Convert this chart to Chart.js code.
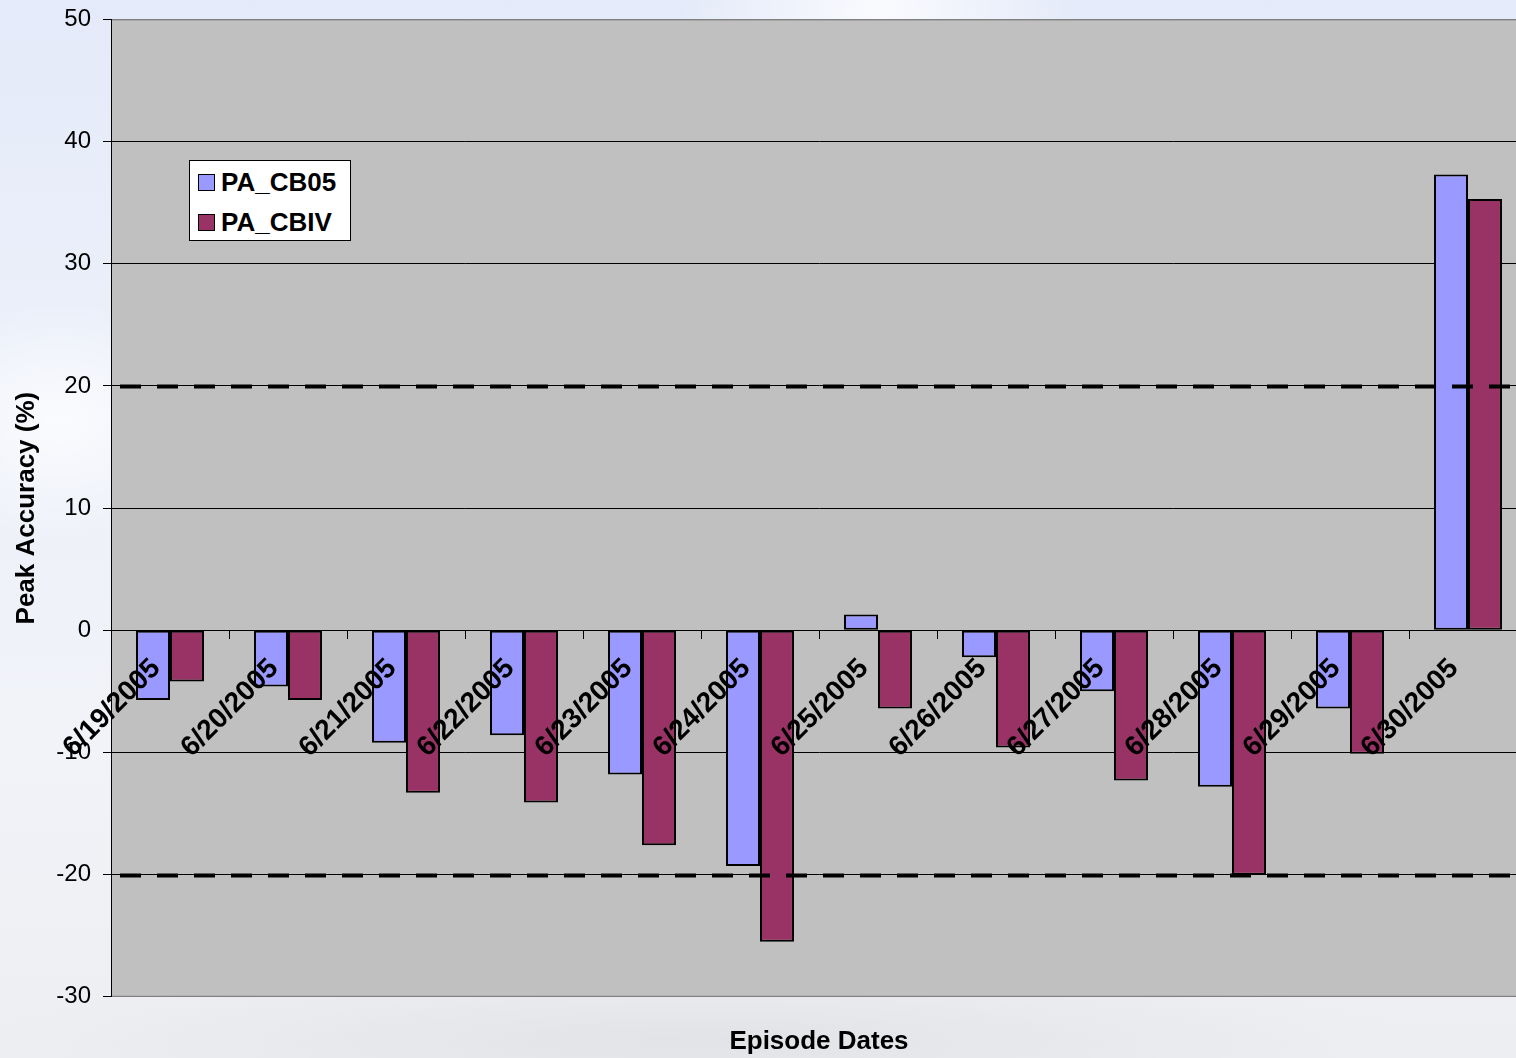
<!DOCTYPE html>
<html>
<head>
<meta charset="utf-8">
<script src="https://cdn.jsdelivr.net/npm/chart.js@4/dist/chart.umd.min.js"></script>
<style>
  html, body { margin: 0; padding: 0; overflow: hidden; width: 1516px; height: 1058px; }
  body {
    position: relative;
    background:
      radial-gradient(ellipse 160px 120px at 60px 420px, rgba(255,255,255,0.75), rgba(255,255,255,0) 100%),
      radial-gradient(ellipse 200px 120px at 880px 10px, rgba(255,255,255,0.8), rgba(255,255,255,0) 100%),
      radial-gradient(ellipse 700px 80px at 700px 1040px, rgba(220,222,226,0.7), rgba(220,222,226,0) 100%),
      linear-gradient(180deg, #E4EAF9 0%, #ECF0FA 35%, #F1F3F8 70%, #ECEEF1 100%);
    font-family: "Liberation Sans", Arial, sans-serif;
  }
  #wrap { position: absolute; left: 0; top: -7px; width: 1530px; height: 1066px; }
  #legend {
    position: absolute; left: 189px; top: 160px; width: 162px; height: 81px;
    background: #fff; border: 1px solid #000; box-sizing: border-box;
    font: bold 26px "Liberation Sans", Arial, sans-serif; color: #000;
  }
  .item { position: absolute; left: 8px; height: 30px; display: flex; align-items: center; }
  .sw { width: 15px; height: 15px; border: 1.5px solid #000; margin-right: 6px; }
</style>
</head>
<body>
<div id="wrap"><canvas id="c" width="1530" height="1066"></canvas></div>
<div id="legend">
  <div class="item" style="top:6px"><span class="sw" style="background:#9999FF"></span><span id="l0"></span></div>
  <div class="item" style="top:46px"><span class="sw" style="background:#993366"></span><span id="l1"></span></div>
</div>
<script>
const categories = ['6/19/2005','6/20/2005','6/21/2005','6/22/2005','6/23/2005','6/24/2005','6/25/2005','6/26/2005','6/27/2005','6/28/2005','6/29/2005','6/30/2005'];
const seriesNames = ['PA_CB05', 'PA_CBIV'];
const paCB05 = [-5.7, -4.6, -9.2, -8.6, -11.8, -19.3, 1.3, -2.2, -5.0, -12.8, -6.4, 37.3];
const paCBIV = [-4.2, -5.7, -13.3, -14.1, -17.6, -25.5, -6.4, -9.6, -12.3, -20.0, -10.1, 35.3];
const thresholds = [20, -20];
const yMin = -30, yMax = 50, yStep = 10;
const xTitle = 'Episode Dates';
const yTitle = 'Peak Accuracy (%)';

document.getElementById('l0').textContent = seriesNames[0];
document.getElementById('l1').textContent = seriesNames[1];

const FONT = '"Liberation Sans", Arial, sans-serif';

const plotBg = {
  id: 'plotBg',
  beforeDraw(chart) {
    const {ctx, chartArea: a} = chart;
    ctx.save();
    ctx.fillStyle = '#C0C0C0';
    ctx.fillRect(a.left, a.top, a.right - a.left, a.bottom - a.top);
    ctx.strokeStyle = '#808080';
    ctx.lineWidth = 1;
    ctx.strokeRect(a.left + 0.5, a.top + 0.5, a.right - a.left, a.bottom - a.top - 1);
    ctx.restore();
  }
};

const thresholdLines = {
  id: 'thresholdLines',
  afterDatasetsDraw(chart) {
    const {ctx, chartArea: a, scales: {y}} = chart;
    ctx.save();
    ctx.strokeStyle = '#000';
    ctx.lineWidth = 4;
    ctx.setLineDash([21, 16]);
    ctx.lineDashOffset = 28;
    thresholds.forEach(v => {
      const py = Math.round(y.getPixelForValue(v)) + 0.5;
      ctx.beginPath();
      ctx.moveTo(a.left, py);
      ctx.lineTo(a.right, py);
      ctx.stroke();
    });
    ctx.restore();
  }
};

new Chart(document.getElementById('c'), {
  type: 'bar',
  data: {
    labels: categories,
    datasets: [
      { label: seriesNames[0], data: paCB05, backgroundColor: '#9999FF', borderColor: '#000', borderWidth: 2, borderSkipped: false },
      { label: seriesNames[1], data: paCBIV, backgroundColor: '#993366', borderColor: '#000', borderWidth: 2, borderSkipped: false }
    ]
  },
  options: {
    responsive: false,
    animation: false,
    devicePixelRatio: 1,
    layout: { padding: { top: 11, right: 3, left: 0, bottom: 0 } },
    datasets: { bar: { categoryPercentage: 0.576, barPercentage: 1.0 } },
    plugins: {
      legend: { display: false },
      tooltip: { enabled: false },
      title: {
        display: true, text: xTitle, position: 'bottom', fullSize: false,
        color: '#000', font: { family: FONT, size: 26, weight: 'bold' },
        padding: { top: 29, bottom: 2 }
      }
    },
    scales: {
      x: {
        position: { y: 0 },
        grid: { drawOnChartArea: false, drawTicks: true, tickLength: 8, color: '#000', offset: true },
        border: { display: true, color: '#000', width: 1 },
        ticks: {
          z: 1,
          color: '#000', autoSkip: false, maxRotation: 45, minRotation: 45, padding: 14, labelOffset: -14,
          font: { family: FONT, size: 28, weight: 'bold' }
        }
      },
      y: {
        min: yMin, max: yMax,
        afterFit(scale) { scale.width = 111; },
        ticks: { stepSize: yStep, color: '#000', padding: 12, font: { family: FONT, size: 24 } },
        grid: {
          color: ctx => (ctx.tick && (ctx.tick.value === yMax || ctx.tick.value === yMin)) ? '#808080' : '#000',
          tickColor: '#000', tickLength: 8, lineWidth: 1
        },
        border: { display: true, color: '#000', width: 1 },
        title: {
          display: true, text: yTitle, color: '#000',
          font: { family: FONT, size: 26, weight: 'bold' }, padding: { top: 11, bottom: 0 }
        }
      }
    }
  },
  plugins: [plotBg, thresholdLines]
});
</script>
</body>
</html>
